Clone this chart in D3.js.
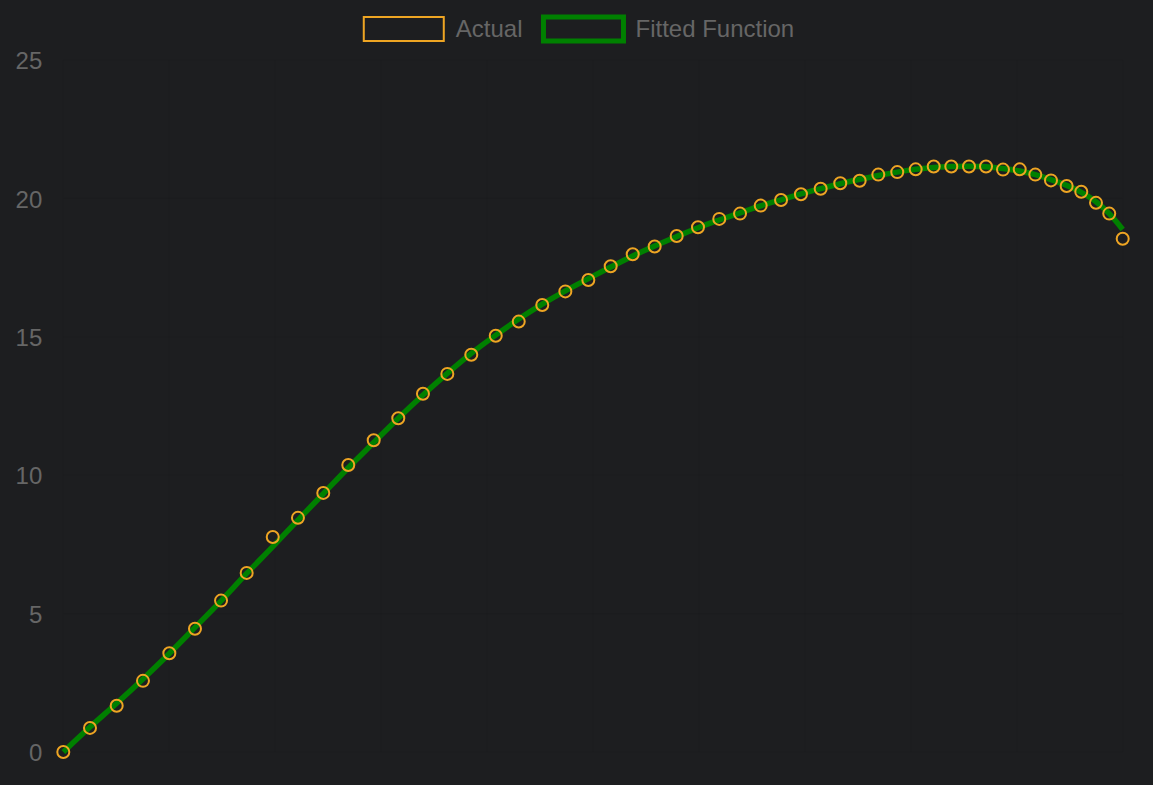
<!DOCTYPE html>
<html>
<head>
<meta charset="utf-8">
<script src="https://cdn.jsdelivr.net/npm/d3@7"></script>
<style>
    html, body { margin: 0; padding: 0; background: #1d1e20; }
    svg { display: block; }
    text { font-family: "Liberation Sans", Arial, Helvetica, sans-serif; fill: #666; }
</style>
</head>
<body>
<div id="chart"></div>
<script>
// --- Données ---
const xValues = [
    0, 0.252, 0.504, 0.752, 1.001, 1.243, 1.489, 1.731, 1.977, 2.215,
    2.454, 2.690, 2.930, 3.162, 3.395, 3.625, 3.851, 4.082, 4.299, 4.521,
    4.739, 4.956, 5.167, 5.375, 5.582, 5.790, 5.991, 6.192, 6.388, 6.583,
    6.775, 6.963, 7.149, 7.334, 7.517, 7.693, 7.872, 8.046, 8.216, 8.382,
    8.549, 8.710, 8.870, 9.028, 9.175, 9.323, 9.471, 9.609, 9.748, 9.873,
    10.0
];

const actualValues = [
    0, 0.87, 1.67, 2.57, 3.57, 4.45, 5.47, 6.47, 7.77, 8.46,
    9.36, 10.37, 11.26, 12.06, 12.94, 13.66, 14.35, 15.04, 15.55, 16.15,
    16.64, 17.05, 17.55, 17.98, 18.26, 18.64, 18.96, 19.26, 19.45, 19.74,
    19.94, 20.15, 20.35, 20.55, 20.64, 20.86, 20.95, 21.05, 21.15, 21.15,
    21.15, 21.15, 21.04, 21.05, 20.86, 20.65, 20.45, 20.24, 19.84, 19.45,
    18.54
];

const fittedValues = [
    0, 0.9, 1.76, 2.64, 3.56, 4.5, 5.46, 6.45, 7.42, 8.38,
    9.33, 10.27, 11.18, 12.06, 12.9, 13.68, 14.4, 15.06, 15.64, 16.18,
    16.66, 17.1, 17.52, 17.92, 18.28, 18.62, 18.94, 19.22, 19.48, 19.73,
    19.95, 20.16, 20.35, 20.53, 20.69, 20.83, 20.95, 21.05, 21.12, 21.15,
    21.16, 21.14, 21.08, 20.99, 20.86, 20.68, 20.47, 20.22, 19.88, 19.45,
    18.88
];

const yTicks = [0, 5, 10, 15, 20, 25];
const xTicks = [0, 1, 2, 3, 4, 5, 6, 7, 8, 9, 10];

const legendItems = [
    { label: 'Actual', color: '#eea523', width: 2 },
    { label: 'Fitted Function', color: '#008000', width: 5 }
];

// --- Dimensions ---
const width = 1153;
const height = 785;
const margin = { top: 60, right: 30.3, bottom: 33, left: 63.3 };

const svg = d3.select('#chart').append('svg')
    .attr('width', width)
    .attr('height', height);

svg.append('rect')
    .attr('width', width)
    .attr('height', height)
    .attr('fill', '#1d1e20');

const x = d3.scaleLinear()
    .domain([0, 10])
    .range([margin.left, width - margin.right]);

const y = d3.scaleLinear()
    .domain([0, 25])
    .range([height - margin.bottom, margin.top]);

// Grille presque invisible (comme sur l'original)
const gridColor = 'rgba(0,0,0,0.045)';

svg.append('g')
    .selectAll('line')
    .data(yTicks)
    .join('line')
    .attr('x1', x(0))
    .attr('x2', x(10))
    .attr('y1', d => y(d))
    .attr('y2', d => y(d))
    .attr('stroke', gridColor);

svg.append('g')
    .selectAll('line')
    .data(xTicks)
    .join('line')
    .attr('x1', d => x(d))
    .attr('x2', d => x(d))
    .attr('y1', y(0))
    .attr('y2', y(25))
    .attr('stroke', gridColor);

// Axe Y : seulement les libellés
const yAxis = svg.append('g')
    .attr('transform', `translate(${margin.left - 21},0)`)
    .call(d3.axisLeft(y).tickValues(yTicks).tickSize(0).tickPadding(0));

yAxis.select('.domain').remove();
yAxis.selectAll('text')
    .attr('fill', '#666')
    .attr('dy', '0.36em')
    .style('font-size', '24px')
    .style('font-family', '"Liberation Sans", Arial, sans-serif');

// Courbe ajustée
const points = xValues.map((d, i) => ({ x: d, actual: actualValues[i], fitted: fittedValues[i] }));

const line = d3.line()
    .x(d => x(d.x))
    .y(d => y(d.fitted))
    .curve(d3.curveMonotoneX);

svg.append('path')
    .datum(points)
    .attr('d', line)
    .attr('fill', 'none')
    .attr('stroke', legendItems[1].color)
    .attr('stroke-width', 5.5)
    .attr('stroke-linejoin', 'round');

// Points réels
svg.append('g')
    .selectAll('circle')
    .data(points)
    .join('circle')
    .attr('cx', d => x(d.x))
    .attr('cy', d => y(d.actual))
    .attr('r', 6)
    .attr('fill', 'none')
    .attr('stroke', legendItems[0].color)
    .attr('stroke-width', 2);

// --- Légende centrée en haut ---
const legend = svg.append('g');
const boxW = 80;
const boxH = 24;
const legendY = 29;

const items = legend.selectAll('g')
    .data(legendItems)
    .join('g');

items.append('rect')
    .attr('width', boxW)
    .attr('height', boxH)
    .attr('y', legendY - boxH / 2)
    .attr('fill', 'none')
    .attr('stroke', d => d.color)
    .attr('stroke-width', d => d.width);

items.append('text')
    .attr('x', boxW + 12)
    .attr('y', legendY)
    .attr('dy', '0.35em')
    .style('font-size', '24px')
    .text(d => d.label);

let offset = 0;
const itemX = [];
items.each(function () {
    const w = boxW + 12 + d3.select(this).select('text').node().getComputedTextLength();
    itemX.push(offset);
    offset += w + 21;
});
const total = offset - 21;
const start = (width - total) / 2 + 2.5;
items.attr('transform', (d, i) => `translate(${start + itemX[i]},0)`);
</script>
</body>
</html>
